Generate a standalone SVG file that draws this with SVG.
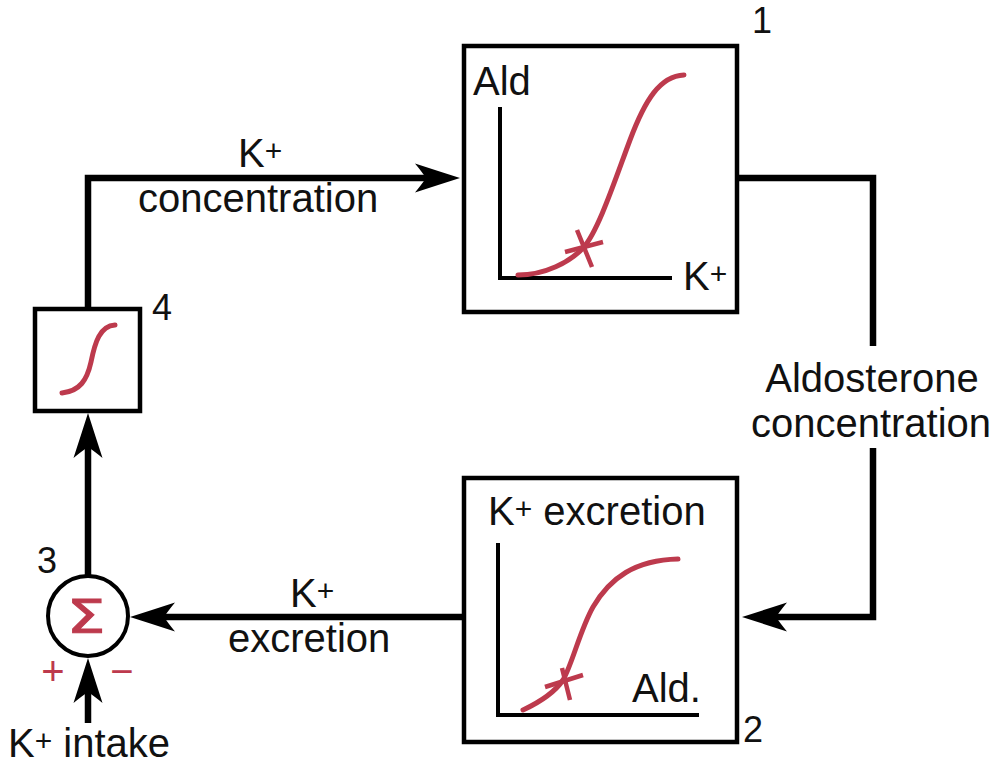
<svg xmlns="http://www.w3.org/2000/svg" width="997" height="776" viewBox="0 0 997 776">
<style>
  text { font-family: "Liberation Sans", Arial, Helvetica, sans-serif; font-size: 40px; fill: #111; }
  .sup { font-size: 30px; }
  .num { font-size: 36px; }
  .box { fill: #fff; stroke: #000; stroke-width: 4.5; }
  .axis { fill: none; stroke: #000; stroke-width: 4; }
  .curve { fill: none; stroke: #bd3a4d; stroke-width: 5; stroke-linecap: round; }
  .mark { fill: none; stroke: #bd3a4d; stroke-width: 4.5; }
  .conn { fill: none; stroke: #000; stroke-width: 6.5; stroke-linejoin: miter; }
  .red { fill: #bd3a4d; }
  .sigma { font-family: "DejaVu Sans", "Liberation Sans", sans-serif; font-weight: normal; font-size: 47px; stroke: #bd3a4d; stroke-width: 1; }
</style>
<defs>
  <marker id="arrow" markerUnits="userSpaceOnUse" viewBox="-16 -16 48 32" markerWidth="48" markerHeight="32" refX="0" refY="0" orient="auto">
    <path d="M30,0 Q8,-7 -15,-14.5 Q-8,-6 -4,0 Q-8,6 -15,14.5 Q8,7 30,0 Z" fill="#000"/>
  </marker>
</defs>

<g id="connectors">
  <path class="conn" d="M88,309 V178 H430" marker-end="url(#arrow)"/>
  <path class="conn" d="M738,178 H873 V346"/>
  <path class="conn" d="M873,448 V617 H772" marker-end="url(#arrow)"/>
  <path class="conn" d="M463,617 H160" marker-end="url(#arrow)"/>
  <path class="conn" d="M88,576 V443" marker-end="url(#arrow)"/>
  <path class="conn" d="M88,723 V688" marker-end="url(#arrow)"/>
  <text x="238" y="167">K<tspan class="sup" dy="-6">+</tspan></text>
  <text x="138" y="212">concentration</text>
  <text x="872" y="392" text-anchor="middle">Aldosterone</text>
  <text x="871" y="437" text-anchor="middle">concentration</text>
  <text x="290" y="607">K<tspan class="sup" dy="-6">+</tspan></text>
  <text x="228" y="652">excretion</text>
</g>

<g id="node1">
  <rect class="box" x="464" y="46" width="273" height="266"/>
  <text class="num" x="752" y="33">1</text>
  <text x="473" y="95">Ald</text>
  <path class="axis" d="M500,107 V278 H672"/>
  <text x="683" y="290">K<tspan class="sup" dy="-6">+</tspan></text>
  <path class="curve" d="M518,275 C545,275 570,262 583,248 C598,232 615,180 630,140 C645,100 660,76 684,75"/>
  <path class="mark" d="M565,252 L603,242 M577,230 L592,267"/>
</g>

<g id="node2">
  <rect class="box" x="464" y="478" width="273" height="264"/>
  <text class="num" x="743" y="742">2</text>
  <text x="488" y="525">K<tspan class="sup" dy="-6">+</tspan><tspan dy="6"> excretion</tspan></text>
  <path class="axis" d="M498,543 V715 H699"/>
  <text x="632" y="702">Ald.</text>
  <path class="curve" d="M523,710 C540,702 555,692 563,680 C572,665 580,630 593,607 C610,578 635,560 678,559"/>
  <path class="mark" d="M545,687 L583,675 M562,668 L570,700"/>
</g>

<g id="node3">
  <circle cx="88" cy="616" r="40" fill="#fff" stroke="#000" stroke-width="4"/>
  <text transform="translate(86,633) scale(1.3,1)" x="0" y="0" text-anchor="middle" class="red sigma">Σ</text>
  <text class="num" x="37" y="573">3</text>
  <text x="53" y="685" text-anchor="middle" class="red" font-size="36">+</text>
  <text x="122" y="685" text-anchor="middle" class="red" font-size="36">−</text>
  <text x="8" y="757">K<tspan class="sup" dy="-6">+</tspan><tspan dy="6"> intake</tspan></text>
</g>

<g id="node4">
  <rect class="box" x="35" y="309" width="105" height="102"/>
  <text class="num" x="152" y="320">4</text>
  <path class="curve" d="M62,393 C80,391 87,380 91,362 C95,342 100,326 115,325"/>
</g>
</svg>
